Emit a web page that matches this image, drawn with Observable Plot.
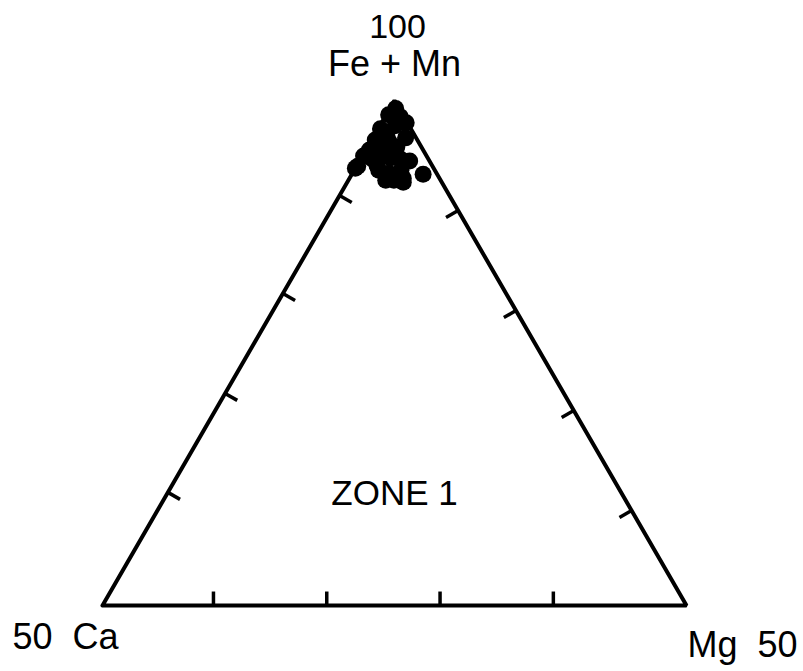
<!DOCTYPE html>
<html>
<head>
<meta charset="utf-8">
<script src="https://cdn.jsdelivr.net/npm/d3@7"></script>
<script src="https://cdn.jsdelivr.net/npm/@observablehq/plot@0.6"></script>
<style>
  html, body { margin: 0; padding: 0; background: #fff; }
  #chart svg { display: block; }
</style>
</head>
<body>
<div id="chart"></div>
<script>
// Sample compositions (mole %), Fe+Mn / Ca / Mg
const feMn = [99.2, 98.4, 98.6, 97.8, 96.3, 97.5, 97.2, 96.1, 96.0, 95.4, 95.1,
              94.9, 94.2, 94.5, 93.5, 93.6, 93.1, 92.8, 93.1, 92.1, 92.3, 92.7,
              94.1, 92.1, 91.9, 93.3, 94.3, 96.5, 94.3];
const ca   = [0.3, 0.3, 1.2, 0.1, 0.9, 1.2, 2.6, 3.6, 2.5, 2.1, 4.6,
              3.6, 2.4, 5.4, 6.4, 4.7, 4.8, 4.1, 2.9, 4.0, 3.1, 1.2,
              1.7, 4.7, 3.3, 6.7, 3.2, 2.4, 4.8];
const mg   = [0.5, 1.3, 0.2, 2.1, 2.8, 1.3, 0.2, 0.3, 1.5, 2.5, 0.3,
              1.5, 3.4, 0.1, 0.1, 1.7, 2.1, 3.1, 4.0, 3.9, 4.6, 6.1,
              4.3, 3.2, 4.8, 0.0, 2.5, 1.1, 1.0];

// Tick marks along the edges (Fe+Mn % on the sides, Mg % on the base)
const leftTicksFe  = [61.2, 71.0, 80.9, 90.6];
const rightTicksFe = [59.4, 69.3, 79.2, 89.1];
const baseTicksMg  = [9.5, 19.2, 28.9, 38.6];

// Corner and field labels
const cornerTop = ["100", "Fe + Mn"];
const cornerLeft = "50\u00a0 Ca";
const cornerRight = "Mg\u00a0 50";
const zoneLabel = {text: "ZONE 1", fe: 60, ca: 20, mg: 20};

// Project a composition onto the Fe+Mn ≥ 50 sub-triangle:
// (0,0) = 50 Ca, (1,0) = 50 Mg, (0.5, √3/2) = 100 Fe+Mn
const H = Math.sqrt(3) / 2;
function tern(fe, c, m) {
  const s = fe + c + m;
  const a = (fe / s * 100 - 50) / 50;
  const r = (m / s * 100) / 50;
  return {x: r + a / 2, y: a * H};
}

const points = feMn.map((f, i) => ({fe: f, ca: ca[i], mg: mg[i], ...tern(f, ca[i], mg[i])}));

const apexFe = tern(100, 0, 0), apexCa = tern(50, 50, 0), apexMg = tern(50, 0, 50);
const outline = [apexCa, apexMg, apexFe, apexCa];

// Ticks point inward, perpendicular to their edge
const tickLen = 14 / 584;
const ticks = [
  ...leftTicksFe.map(f => ({p: tern(f, 100 - f, 0), n: [Math.sqrt(3) / 2, -0.5]})),
  ...rightTicksFe.map(f => ({p: tern(f, 0, 100 - f), n: [-Math.sqrt(3) / 2, -0.5]})),
  ...baseTicksMg.map(m => ({p: tern(50, 50 - m, m), n: [0, 1]}))
].map(({p, n}) => ({x1: p.x, y1: p.y, x2: p.x + n[0] * tickLen, y2: p.y + n[1] * tickLen}));

const zone = tern(zoneLabel.fe, zoneLabel.ca, zoneLabel.mg);

const font = "'Liberation Sans', Arial, Helvetica, sans-serif";

const chart = Plot.plot({
  width: 803,
  height: 671,
  marginLeft: 102,
  marginRight: 117,
  marginTop: 100,
  marginBottom: 66,
  x: {domain: [0, 1], axis: null},
  y: {domain: [0, H], axis: null},
  style: {fontFamily: font, background: "#fff", color: "#000"},
  marks: [
    Plot.line(outline, {x: "x", y: "y", stroke: "#000", strokeWidth: 4, strokeLinejoin: "miter"}),
    Plot.link(ticks, {x1: "x1", y1: "y1", x2: "x2", y2: "y2", stroke: "#000", strokeWidth: 3.5}),
    Plot.dot(points, {x: "x", y: "y", r: 8.5, fill: "#000", stroke: "none"}),
    Plot.text([apexFe], {x: "x", y: "y", text: () => cornerTop[0], fontSize: 34, lineAnchor: "bottom", dx: 3, dy: -63, fill: "#000"}),
    Plot.text([apexFe], {x: "x", y: "y", text: () => cornerTop[1], fontSize: 36, lineAnchor: "bottom", dy: -25, fill: "#000"}),
    Plot.text([apexCa], {x: "x", y: "y", text: () => cornerLeft, fontSize: 36, lineAnchor: "bottom", textAnchor: "start", dx: -90, dy: 43, fill: "#000"}),
    Plot.text([apexMg], {x: "x", y: "y", text: () => cornerRight, fontSize: 36, lineAnchor: "bottom", textAnchor: "end", dx: 111, dy: 51, fill: "#000"}),
    Plot.text([zone], {x: "x", y: "y", text: () => zoneLabel.text, fontSize: 35, lineAnchor: "bottom", fill: "#000"})
  ]
});

document.getElementById("chart").appendChild(chart);
</script>
</body>
</html>
